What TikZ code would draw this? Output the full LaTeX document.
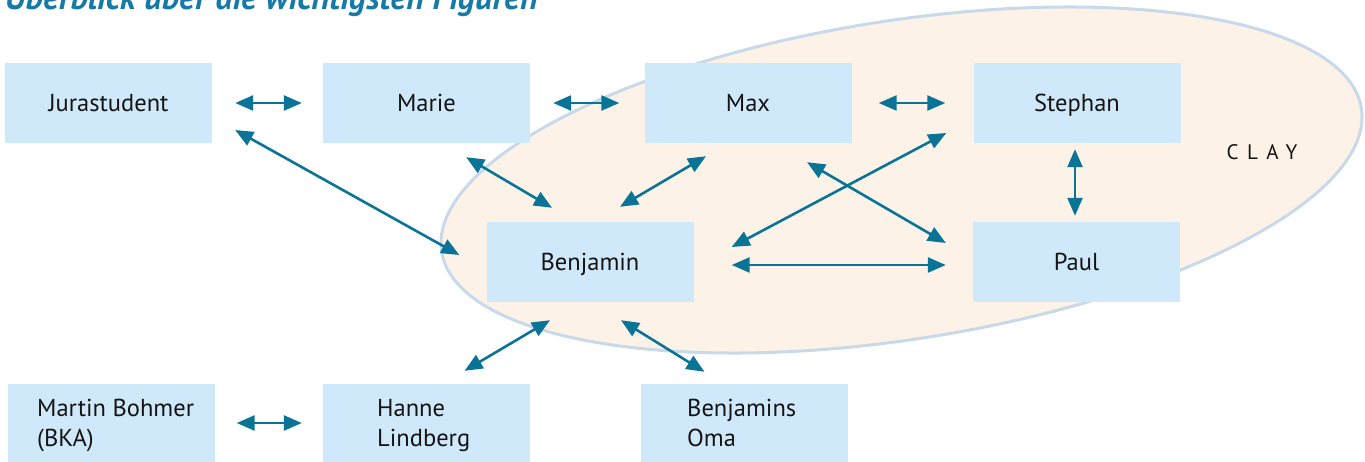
\documentclass[tikz,border=0pt]{standalone}
\usepackage{fontspec}
\setmainfont{PT Sans}
\usetikzlibrary{arrows.meta,calc}
\definecolor{arrowc}{RGB}{10,116,150}
\definecolor{boxc}{RGB}{208,233,250}
\definecolor{ellfill}{RGB}{253,242,231}
\definecolor{elldraw}{RGB}{200,217,234}
\definecolor{titlec}{RGB}{22,122,166}
\definecolor{textc}{RGB}{20,20,20}
\begin{document}
\begin{tikzpicture}[x=1pt,y=-1pt,
  personbox/.style={fill=boxc, minimum width=207pt, minimum height=80pt, inner sep=0pt, text height=22pt, text depth=5pt, font=\fontsize{24.5}{29}\selectfont, text=textc},
  lowtext/.style={anchor=base west, align=left, inner sep=0pt, font=\fontsize{24.5}{30}\selectfont, text=textc},
  rel/.style={draw=arrowc, line width=2.6pt, {Triangle[length=18pt,width=15pt]}-{Triangle[length=18pt,width=15pt]}}]
\useasboundingbox (0,0) rectangle (1365,461);
\clip (0,0) rectangle (1365,461);
\node[anchor=base west, inner sep=0pt, text=titlec, font=\fontsize{34}{40}\selectfont\bfseries\itshape] (title) at (5,9) {Überblick über die wichtigsten Figuren};
\draw[fill=ellfill, draw=elldraw, line width=3pt, rotate around={8.84:(901.5,180)}] (901.5,180) ellipse [x radius=465.4, y radius=159.4];
\node[anchor=center, inner sep=0pt, text=textc, font=\fontsize{21}{24}\selectfont\addfontfeatures{LetterSpace=40}] (clay) at (1262,152) {CLAY};
\node[personbox] (jura) at (108.5,103) {Jurastudent};
\node[personbox] (marie) at (426.5,103) {Marie};
\node[personbox] (max) at (748,103) {Max};
\node[personbox] (stephan) at (1077,103) {Stephan};
\node[personbox] (benj) at (590,262) {Benjamin};
\node[personbox] (paul) at (1076.5,262) {Paul};
\node[personbox] (martin) at (111,424) {};
\node[personbox] (hanne) at (426.5,424) {};
\node[personbox] (oma) at (744.5,424) {};
\node[lowtext] (martinT) at (37,446) {Martin Bohmer\\(BKA)};
\node[lowtext] (hanneT) at (377,446) {Hanne\\Lindberg};
\node[lowtext] (omaT) at (687,446) {Benjamins\\Oma};
\draw[rel] ($(jura.east)+(23,0)$) -- ($(marie.west)+(-21,0)$);
\draw[rel] ($(marie.east)+(23,0)$) -- ($(max.west)+(-25,0)$);
\draw[rel] ($(max.east)+(27,0)$) -- ($(stephan.west)+(-28,0)$);
\draw[rel] ($(jura.east)+(23,27)$) -- ($(benj.west)+(-27,-7)$);
\draw[rel] ($(marie.south east)+(-64,14)$) -- ($(benj.north)+(-38,-14)$);
\draw[rel] ($(max.south)+(-42,13)$) -- ($(benj.north)+(30,-15)$);
\draw[rel] ($(stephan.west)+(-27,30)$) -- ($(benj.east)+(38,-15)$);
\draw[rel] ($(max.south)+(59,19)$) -- ($(paul.west)+(-27,-19)$);
\draw[rel] ($(stephan.south)+(-2,6)$) -- ($(paul.north)+(-1.5,-6)$);
\draw[rel] ($(benj.east)+(38,3)$) -- ($(paul.west)+(-27,3)$);
\draw[rel] ($(benj.south)+(-40,18)$) -- ($(hanne.north)+(38,-13)$);
\draw[rel] ($(benj.south)+(31,18)$) -- ($(oma.north)+(-40,-12)$);
\draw[rel] ($(martin.east)+(22,-1)$) -- ($(hanne.west)+(-21,-1)$);
\end{tikzpicture}
\end{document}
